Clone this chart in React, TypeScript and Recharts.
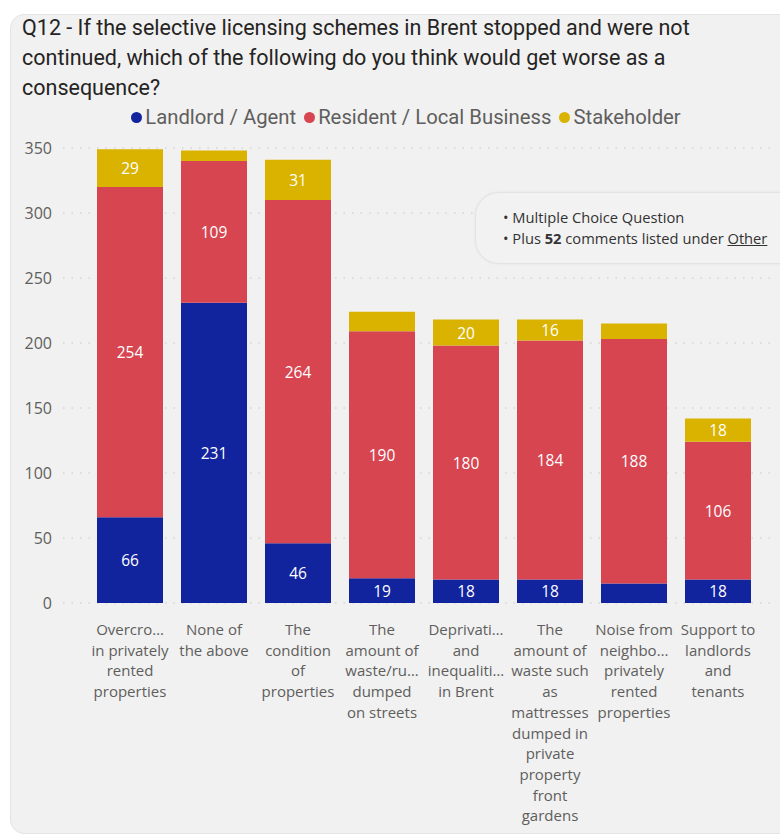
import React from "react";
import { BarChart, Bar, XAxis, YAxis, CartesianGrid, LabelList } from "recharts";

const titleLines = [
  "Q12 - If the selective licensing schemes in Brent stopped and were not",
  "continued, which of the following do you think would get worse as a",
  "consequence?",
];

const categories = [
  "Overcrowding in privately rented properties",
  "None of the above",
  "The condition of properties",
  "The amount of waste/rubbish dumped on streets",
  "Deprivation and inequalities in Brent",
  "The amount of waste such as mattresses dumped in private property front gardens",
  "Noise from neighbouring privately rented properties",
  "Support to landlords and tenants",
];

const tickLines: string[][] = [
  ["Overcro…", "in privately", "rented", "properties"],
  ["None of", "the above"],
  ["The", "condition", "of", "properties"],
  ["The", "amount of", "waste/ru…", "dumped", "on streets"],
  ["Deprivati…", "and", "inequaliti…", "in Brent"],
  ["The", "amount of", "waste such", "as", "mattresses", "dumped in", "private", "property", "front", "gardens"],
  ["Noise from", "neighbo…", "privately", "rented", "properties"],
  ["Support to", "landlords", "and", "tenants"],
];

const landlord = [66, 231, 46, 19, 18, 18, 15, 18];
const resident = [254, 109, 264, 190, 180, 184, 188, 106];
const stakeholder = [29, 8, 31, 15, 20, 16, 12, 18];

const yTicks = [0, 50, 100, 150, 200, 250, 300, 350];

const seriesNames = ["Landlord / Agent", "Resident / Local Business", "Stakeholder"];
const colors = ["#12239E", "#D64550", "#D9B300"];

const data = categories.map((name, i) => ({
  name,
  landlord: landlord[i],
  resident: resident[i],
  stakeholder: stakeholder[i],
}));

const axisFont = "'Open Sans', 'Noto Sans', sans-serif";
const titleFont = "Roboto, 'Noto Sans', sans-serif";

const XTick = (props: any) => {
  const { x, y, payload } = props;
  const idx = categories.indexOf(payload.value);
  const lines = tickLines[idx] || [];
  return (
    <text x={x} y={y} textAnchor="middle" fill="#605E5C" fontSize={15} fontFamily={axisFont}>
      {lines.map((l, i) => (
        <tspan key={i} x={x} dy={i === 0 ? 24 : 20.7}>
          {l}
        </tspan>
      ))}
    </text>
  );
};

const SegLabel = (props: any) => {
  const { x, y, width, height, value } = props;
  if (value == null || value < 16) return null;
  return (
    <text
      x={x + width / 2}
      y={y + height / 2}
      fill="#FFFFFF"
      textAnchor="middle"
      dominantBaseline="central"
      fontSize={15.5}
      fontFamily={axisFont}
    >
      {value}
    </text>
  );
};

export default function App() {
  return (
    <div style={{ position: "absolute", left: 0, top: 0, width: 780, height: 835, overflow: "hidden", background: "#FFFFFF" }}>
      <div
        style={{
          position: "absolute",
          left: 10,
          top: 14,
          width: 800,
          height: 818,
          borderRadius: 14,
          background: "#F1F1F1",
          border: "1px solid #E4E4E4",
        }}
      />
      <div
        style={{
          position: "absolute",
          left: 22,
          top: 13,
          width: 760,
          fontFamily: titleFont,
          fontSize: 21.5,
          lineHeight: "30px",
          color: "#252423",
          whiteSpace: "nowrap",
        }}
      >
        {titleLines.map((l) => (
          <div key={l}>{l}</div>
        ))}
      </div>
      <div
        style={{
          position: "absolute",
          left: 0,
          top: 104,
          width: 820,
          display: "flex",
          justifyContent: "center",
          alignItems: "center",
          fontFamily: titleFont,
          fontSize: 20.3,
          color: "#605E5C",
          lineHeight: "26px",
        }}
      >
        {seriesNames.map((n, i) => (
          <div key={n} style={{ display: "flex", alignItems: "center", marginRight: 8 }}>
            <span
              style={{
                display: "inline-block",
                width: 11,
                height: 11,
                borderRadius: 6,
                background: colors[i],
                marginRight: 3,
              }}
            />
            <span>{n}</span>
          </div>
        ))}
      </div>
      <div style={{ position: "absolute", left: 0, top: 0 }}>
        <BarChart
          width={780}
          height={835}
          data={data}
          margin={{ top: 148, right: 5, bottom: 12, left: 0 }}
        >
          <CartesianGrid vertical={false} stroke="#C8C8C8" strokeDasharray="1.5 7" />
          <XAxis
            dataKey="name"
            interval={0}
            height={220}
            axisLine={false}
            tickLine={false}
            tick={<XTick />}
            padding={{ left: 25, right: 15 }}
          />
          <YAxis
            width={63}
            domain={[0, 350]}
            ticks={yTicks}
            axisLine={false}
            tickLine={false}
            tickMargin={5}
            tick={{ fill: "#605E5C", fontSize: 16, fontFamily: axisFont }}
          />
          <Bar dataKey="landlord" stackId="a" fill={colors[0]} barSize={66} isAnimationActive={false}>
            <LabelList dataKey="landlord" content={<SegLabel />} />
          </Bar>
          <Bar dataKey="resident" stackId="a" fill={colors[1]} barSize={66} isAnimationActive={false}>
            <LabelList dataKey="resident" content={<SegLabel />} />
          </Bar>
          <Bar dataKey="stakeholder" stackId="a" fill={colors[2]} barSize={66} isAnimationActive={false}>
            <LabelList dataKey="stakeholder" content={<SegLabel />} />
          </Bar>
        </BarChart>
      </div>
      <div
        style={{
          position: "absolute",
          left: 475,
          top: 192,
          width: 340,
          height: 72,
          borderRadius: 24,
          background: "#F2F2F2",
          border: "1px solid #E3E3E3",
          boxShadow: "0 0 3px rgba(0,0,0,0.06)",
          boxSizing: "border-box",
          paddingLeft: 27,
          paddingTop: 14,
          fontFamily: axisFont,
          fontSize: 14.7,
          lineHeight: "21px",
          color: "#333333",
        }}
      >
        <div>• Multiple Choice Question</div>
        <div>
          • Plus <b>52</b> comments listed under <u>Other</u>
        </div>
      </div>
    </div>
  );
}
